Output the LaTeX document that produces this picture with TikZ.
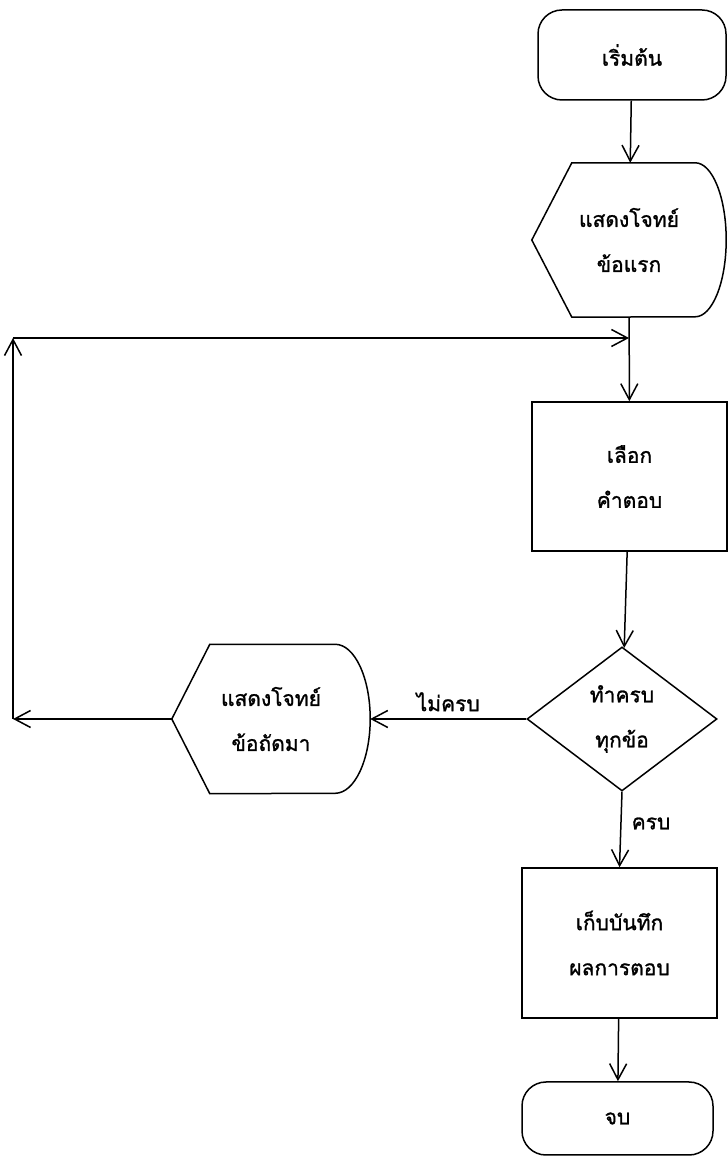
\documentclass[tikz,border=0pt]{standalone}
\usepackage{fontspec}
\newfontfamily\thaifont[Script=Thai,FakeBold=1.2]{Loma}
\usetikzlibrary{arrows.meta,shapes.geometric,calc}

% Outline of a "display" symbol: pointed left side, flat top and bottom,
% curved right side.  #1 node name, #2 inset of the point, #3 x radius, #4 y radius
\newcommand{\displayoutline}[4]{%
  \draw[line] (#1.west) -- ($(#1.north west)+(#2,0)$) -- ($(#1.north east)+(-#3,0)$)
    arc[start angle=90, end angle=-90, x radius=#3, y radius=#4]
    -- ($(#1.south west)+(#2,0)$) -- cycle;}

\begin{document}
\begin{tikzpicture}[x=1pt,y=1pt,
  every node/.style={font=\thaifont\fontsize{21}{45}\selectfont, align=center, inner sep=0pt},
  line/.style={line width=1.5pt},
  flow/.style={line, -{Straight Barb[length=16pt,width=17pt]}},
  terminal/.style={draw, line, rectangle, rounded corners=24pt},
  process/.style={draw, line, rectangle},
  decision/.style={draw, line, diamond},
  display/.style={rectangle}]
\useasboundingbox (0,0) rectangle (728,1157);

% nodes of the flow
\node[terminal, minimum width=188pt, minimum height=90pt] (start) at (632,1102) {เริ่มต้น};
\node[display, minimum width=194pt, minimum height=154pt] (show1) at (629,917) {แสดงโจทย์\\ข้อแรก};
\node[process, minimum width=195pt, minimum height=149pt] (choose) at (629.5,680.5) {เลือก\\คำตอบ};
\node[decision, minimum width=190pt, minimum height=144pt] (check) at (622,438) {ทำครบ\\ทุกข้อ};
\node[display, minimum width=198pt, minimum height=149pt] (show2) at (271,438) {แสดงโจทย์\\ข้อถัดมา};
\node[process, minimum width=195pt, minimum height=150pt] (save) at (619.5,214) {เก็บบันทึก\\ผลการตอบ};
\node[terminal, minimum width=191pt, minimum height=73pt] (stop) at (617.5,38.5) {จบ};

\displayoutline{show1}{40}{31}{77}
\displayoutline{show2}{38}{35}{74.5}

% corners of the loop back to the answer step
\coordinate (lowcorner) at (13,438);
\coordinate (topcorner) at (13,819);
\coordinate (join) at (show1.south |- topcorner);

% connectors
\draw[flow] (start) -- (show1);
\draw[flow] (show1) -- (choose);
\draw[flow] (choose) -- (check);
\draw[flow] (check.west) -- (show2.east) node[midway, above=7pt] {ไม่ครบ};
\draw[flow] (check.south) -- (save.north) node[pos=0.42, right=10pt] {ครบ};
\draw[flow] (save) -- (stop);
\draw[flow] (show2.west) -- (lowcorner);
\draw[flow] (lowcorner) -- (topcorner);
\draw[flow] (topcorner) -- (join);
\end{tikzpicture}
\end{document}
